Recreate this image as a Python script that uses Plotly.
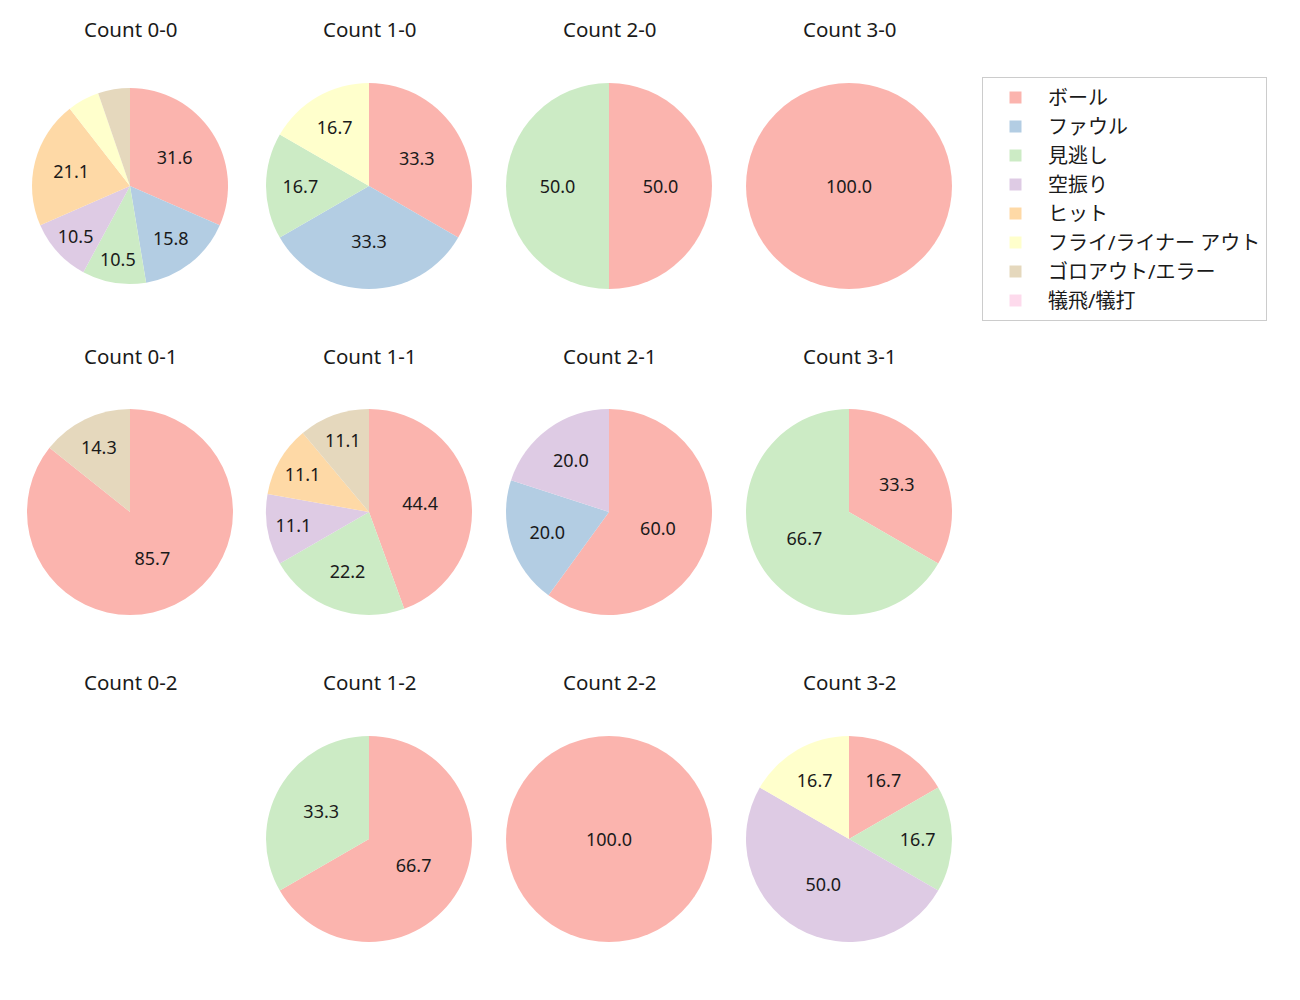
import plotly.graph_objects as go

categories = ["ボール", "ファウル", "見逃し", "空振り", "ヒット", "フライ/ライナー アウト", "ゴロアウト/エラー", "犠飛/犠打"]
colors = ["#fbb4ae", "#b3cde3", "#ccebc5", "#decbe4", "#fed9a6", "#ffffcc", "#e5d8bd", "#fddaec"]

counts = ["0-0", "1-0", "2-0", "3-0", "0-1", "1-1", "2-1", "3-1", "0-2", "1-2", "2-2", "3-2"]
values = {
    "0-0": [6, 3, 2, 2, 4, 1, 1, 0],
    "1-0": [2, 2, 1, 0, 0, 1, 0, 0],
    "2-0": [1, 0, 1, 0, 0, 0, 0, 0],
    "3-0": [1, 0, 0, 0, 0, 0, 0, 0],
    "0-1": [6, 0, 0, 0, 0, 0, 1, 0],
    "1-1": [4, 0, 2, 1, 1, 0, 1, 0],
    "2-1": [3, 1, 0, 1, 0, 0, 0, 0],
    "3-1": [1, 0, 2, 0, 0, 0, 0, 0],
    "0-2": [0, 0, 0, 0, 0, 0, 0, 0],
    "1-2": [2, 0, 1, 0, 0, 0, 0, 0],
    "2-2": [1, 0, 0, 0, 0, 0, 0, 0],
    "3-2": [1, 0, 1, 3, 0, 1, 0, 0],
}

W, H = 1300, 1000
OFF = 8  # browser body margin
col_cx = [130, 369, 609, 849]
row_cy = [186, 512, 839]
title_y = [29, 356, 682]
R = 103
FONT = "Noto Sans, Noto Sans CJK JP, sans-serif"

fig = go.Figure()
annotations = []
first = True
for i, c in enumerate(counts):
    col, row = i % 4, i // 4
    cx, cy = col_cx[col] - OFF, row_cy[row] - OFF
    annotations.append(dict(x=cx / W, y=1 - (title_y[row] - OFF) / H, xref="paper", yref="paper",
                            text=f"Count {c}", showarrow=False, font=dict(size=20.5, color="#1a1a1a"),
                            xanchor="center", yanchor="middle"))
    v = values[c]
    tot = sum(v)
    if tot == 0:
        continue
    r = 98 if c == "0-0" else R
    texts = [f"{x / tot * 100:.1f}" if x / tot >= 0.1 else "" for x in v]
    fig.add_trace(go.Pie(
        labels=categories, values=v, text=texts, textinfo="text",
        textposition="inside", insidetextorientation="horizontal",
        textfont=dict(size=18, color="#1a1a1a"),
        marker=dict(colors=colors, line=dict(width=0)),
        sort=False, direction="clockwise", rotation=0,
        domain=dict(x=[(cx - r) / W, (cx + r) / W], y=[1 - (cy + r) / H, 1 - (cy - r) / H]),
        showlegend=first, hoverinfo="label+percent",
    ))
    first = False

fig.update_layout(
    width=W, height=H, margin=dict(l=0, r=0, t=0, b=0),
    paper_bgcolor="white", plot_bgcolor="white",
    font=dict(family=FONT, size=18, color="#1a1a1a"),
    annotations=annotations,
    legend=dict(x=(982 - OFF) / W, y=1 - (77 - OFF) / H, xanchor="left", yanchor="top",
                bordercolor="#cccccc", borderwidth=1, font=dict(size=20),
                itemwidth=55, tracegroupgap=0, traceorder="normal"),
)
fig.write_html("out.html")
